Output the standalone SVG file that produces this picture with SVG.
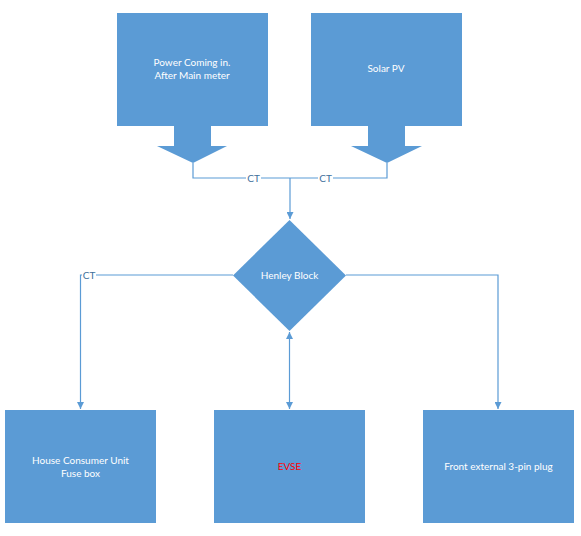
<svg xmlns="http://www.w3.org/2000/svg" width="581" height="536" viewBox="0 0 581 536">
<defs>
<style>
.box{fill:#5B9BD5;}
.t{font-family:Lato,"Open Sans","Liberation Sans",sans-serif;font-size:10px;fill:#ffffff;text-anchor:middle;}
.red{fill:#FF0000;}
.ln{fill:none;stroke:#5B9BD5;stroke-width:1.2;}
.ct{font-family:Lato,"Open Sans","Liberation Sans",sans-serif;font-size:10px;fill:#41719C;text-anchor:middle;}
</style>
<marker id="ah" viewBox="0 0 8 8" refX="8" refY="4" markerWidth="7" markerHeight="7" markerUnits="userSpaceOnUse" orient="auto-start-reverse">
<path d="M0,0 L8,4 L0,8 Z" fill="#5B9BD5"/>
</marker>
</defs>
<rect width="581" height="536" fill="#ffffff"/>
<g id="connectors">
<polyline class="ln" points="193,163 193,178 387,178 387,163"/>
<line class="ln" x1="290" y1="178" x2="290" y2="219" marker-end="url(#ah)"/>
<polyline class="ln" points="233,275 80.5,275 80.5,409" marker-end="url(#ah)"/>
<polyline class="ln" points="346,275 498,275 498,409" marker-end="url(#ah)"/>
<line class="ln" x1="289.5" y1="332" x2="289.5" y2="409" marker-start="url(#ah)" marker-end="url(#ah)"/>
<rect x="246" y="173" width="15" height="10" fill="#ffffff"/>
<text class="ct" x="253.5" y="182">CT</text>
<rect x="318" y="173" width="15" height="10" fill="#ffffff"/>
<text class="ct" x="325.5" y="182">CT</text>
<rect x="82" y="270" width="14" height="10" fill="#ffffff"/>
<text class="ct" x="89" y="278.5">CT</text>
</g>
<g id="power">
<rect class="box" x="117" y="13" width="151" height="113"/>
<polygon class="box" points="174,126 211,126 211,146 227,146 193,163 157,146 174,146"/>
<text class="t" x="192" y="65.5">Power Coming in.</text>
<text class="t" x="192" y="79">After Main meter</text>
</g>
<g id="solar">
<rect class="box" x="311" y="13" width="151" height="113"/>
<polygon class="box" points="368,126 405,126 405,146 422,146 387,163 351,146 368,146"/>
<text class="t" x="386" y="72">Solar PV</text>
</g>
<g id="henley">
<polygon class="box" points="289.5,220 346,275.5 289.5,331 233,275.5"/>
<text class="t" x="289.5" y="279">Henley Block</text>
</g>
<g id="consumer">
<rect class="box" x="5" y="410" width="151" height="113"/>
<text class="t" x="80.5" y="463.5">House Consumer Unit</text>
<text class="t" x="80.5" y="476.5">Fuse box</text>
</g>
<g id="evse">
<rect class="box" x="214" y="410" width="151" height="113"/>
<text class="t red" x="289.5" y="469.5">EVSE</text>
</g>
<g id="plug">
<rect class="box" x="423" y="410" width="151" height="113"/>
<text class="t" x="498.5" y="469.5">Front external 3-pin plug</text>
</g>
</svg>
